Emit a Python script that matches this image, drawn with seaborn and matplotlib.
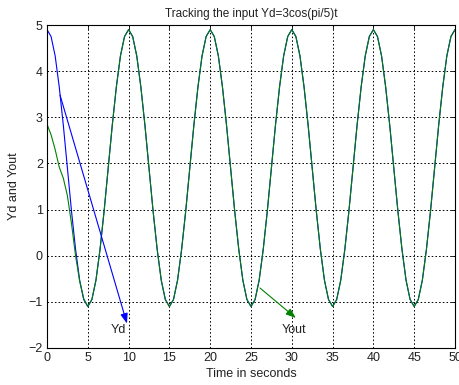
import matplotlib
matplotlib.use("Agg")
import matplotlib.pyplot as plt
import seaborn as sns
import pandas as pd

# ---- data ----
time_s = [0.5 * i for i in range(101)]

yd = [4.9, 4.75, 4.33, 3.66, 2.83, 1.9, 0.97, 0.14, -0.53, -0.95,
      -1.1, -0.95, -0.53, 0.14, 0.97, 1.9, 2.83, 3.66, 4.33, 4.75,
      4.9, 4.75, 4.33, 3.66, 2.83, 1.9, 0.97, 0.14, -0.53, -0.95,
      -1.1, -0.95, -0.53, 0.14, 0.97, 1.9, 2.83, 3.66, 4.33, 4.75,
      4.9, 4.75, 4.33, 3.66, 2.83, 1.9, 0.97, 0.14, -0.53, -0.95,
      -1.1, -0.95, -0.53, 0.14, 0.97, 1.9, 2.83, 3.66, 4.33, 4.75,
      4.9, 4.75, 4.33, 3.66, 2.83, 1.9, 0.97, 0.14, -0.53, -0.95,
      -1.1, -0.95, -0.53, 0.14, 0.97, 1.9, 2.83, 3.66, 4.33, 4.75,
      4.9, 4.75, 4.33, 3.66, 2.83, 1.9, 0.97, 0.14, -0.53, -0.95,
      -1.1, -0.95, -0.53, 0.14, 0.97, 1.9, 2.83, 3.66, 4.33, 4.75,
      4.9]

yout = [2.85, 2.62, 2.3, 1.92, 1.68, 1.3, 0.7, 0.0, -0.55, -0.93,
        -1.1, -0.95, -0.53, 0.14, 0.97, 1.9, 2.83, 3.66, 4.33, 4.75,
        4.9, 4.75, 4.33, 3.66, 2.83, 1.9, 0.97, 0.14, -0.53, -0.95,
        -1.1, -0.95, -0.53, 0.14, 0.97, 1.9, 2.83, 3.66, 4.33, 4.75,
        4.9, 4.75, 4.33, 3.66, 2.83, 1.9, 0.97, 0.14, -0.53, -0.95,
        -1.1, -0.95, -0.53, 0.14, 0.97, 1.9, 2.83, 3.66, 4.33, 4.75,
        4.9, 4.75, 4.33, 3.66, 2.83, 1.9, 0.97, 0.14, -0.53, -0.95,
        -1.1, -0.95, -0.53, 0.14, 0.97, 1.9, 2.83, 3.66, 4.33, 4.75,
        4.9, 4.75, 4.33, 3.66, 2.83, 1.9, 0.97, 0.14, -0.53, -0.95,
        -1.1, -0.95, -0.53, 0.14, 0.97, 1.9, 2.83, 3.66, 4.33, 4.75,
        4.9]

x_ticks = [0, 5, 10, 15, 20, 25, 30, 35, 40, 45, 50]
y_ticks = [-2, -1, 0, 1, 2, 3, 4, 5]

title_text = "Tracking the input Yd=3cos(pi/5)t"
x_label = "Time in seconds"
y_label = "Yd and Yout"

# arrow annotations: (tail, head, label position)
yd_arrow = {"tail": (1.6, 3.48), "head": (9.8, -1.47), "label": (8.8, -1.6), "text": "Yd"}
yout_arrow = {"tail": (26.1, -0.70), "head": (30.5, -1.35), "label": (30.3, -1.6), "text": "Yout"}

# ---- styling ----
sns.set_style("white")
plt.rcParams["font.family"] = ["Liberation Sans", "DejaVu Sans"]
plt.rcParams["font.size"] = 9

df = pd.DataFrame({"t": time_s, "Yd": yd, "Yout": yout})

fig = plt.figure(figsize=(4.6, 3.85), dpi=100)
ax = fig.add_axes([47 / 460, 1 - 348 / 385, 408 / 460, 323 / 385])

sns.lineplot(data=df, x="t", y="Yd", ax=ax, color="#0000ff", linewidth=0.8,
             estimator=None, sort=False)
sns.lineplot(data=df, x="t", y="Yout", ax=ax, color="#008000", linewidth=0.8,
             estimator=None, sort=False)

ax.set_xlim(0, 50)
ax.set_ylim(-2, 5)
ax.set_xticks(x_ticks)
ax.set_yticks(y_ticks)
ax.grid(True, color="black", linestyle=(0, (1.6, 2.2)), linewidth=0.7)

for s in ax.spines.values():
    s.set_color("black")
    s.set_linewidth(0.8)

ax.tick_params(direction="in", length=3, width=0.6, top=True, right=True,
               labelsize=9, pad=3, colors="black", labelcolor="#222222")

ax.set_title(title_text, fontsize=8.5, pad=6, color="#222222")
ax.set_xlabel(x_label, fontsize=9, labelpad=3, color="#222222")
ax.set_ylabel(y_label, fontsize=9, labelpad=6, color="#222222")

for arr, col in ((yd_arrow, "#0000ff"), (yout_arrow, "#008000")):
    ax.annotate("", xy=arr["head"], xytext=arr["tail"],
                arrowprops=dict(arrowstyle="-|>,head_length=0.6,head_width=0.22",
                                color=col, lw=0.8,
                                mutation_scale=10, shrinkA=0, shrinkB=0))
    ax.text(arr["label"][0], arr["label"][1], arr["text"], ha="center",
            va="center", fontsize=9, color="#222222")

fig.savefig("out.png", dpi=100)
